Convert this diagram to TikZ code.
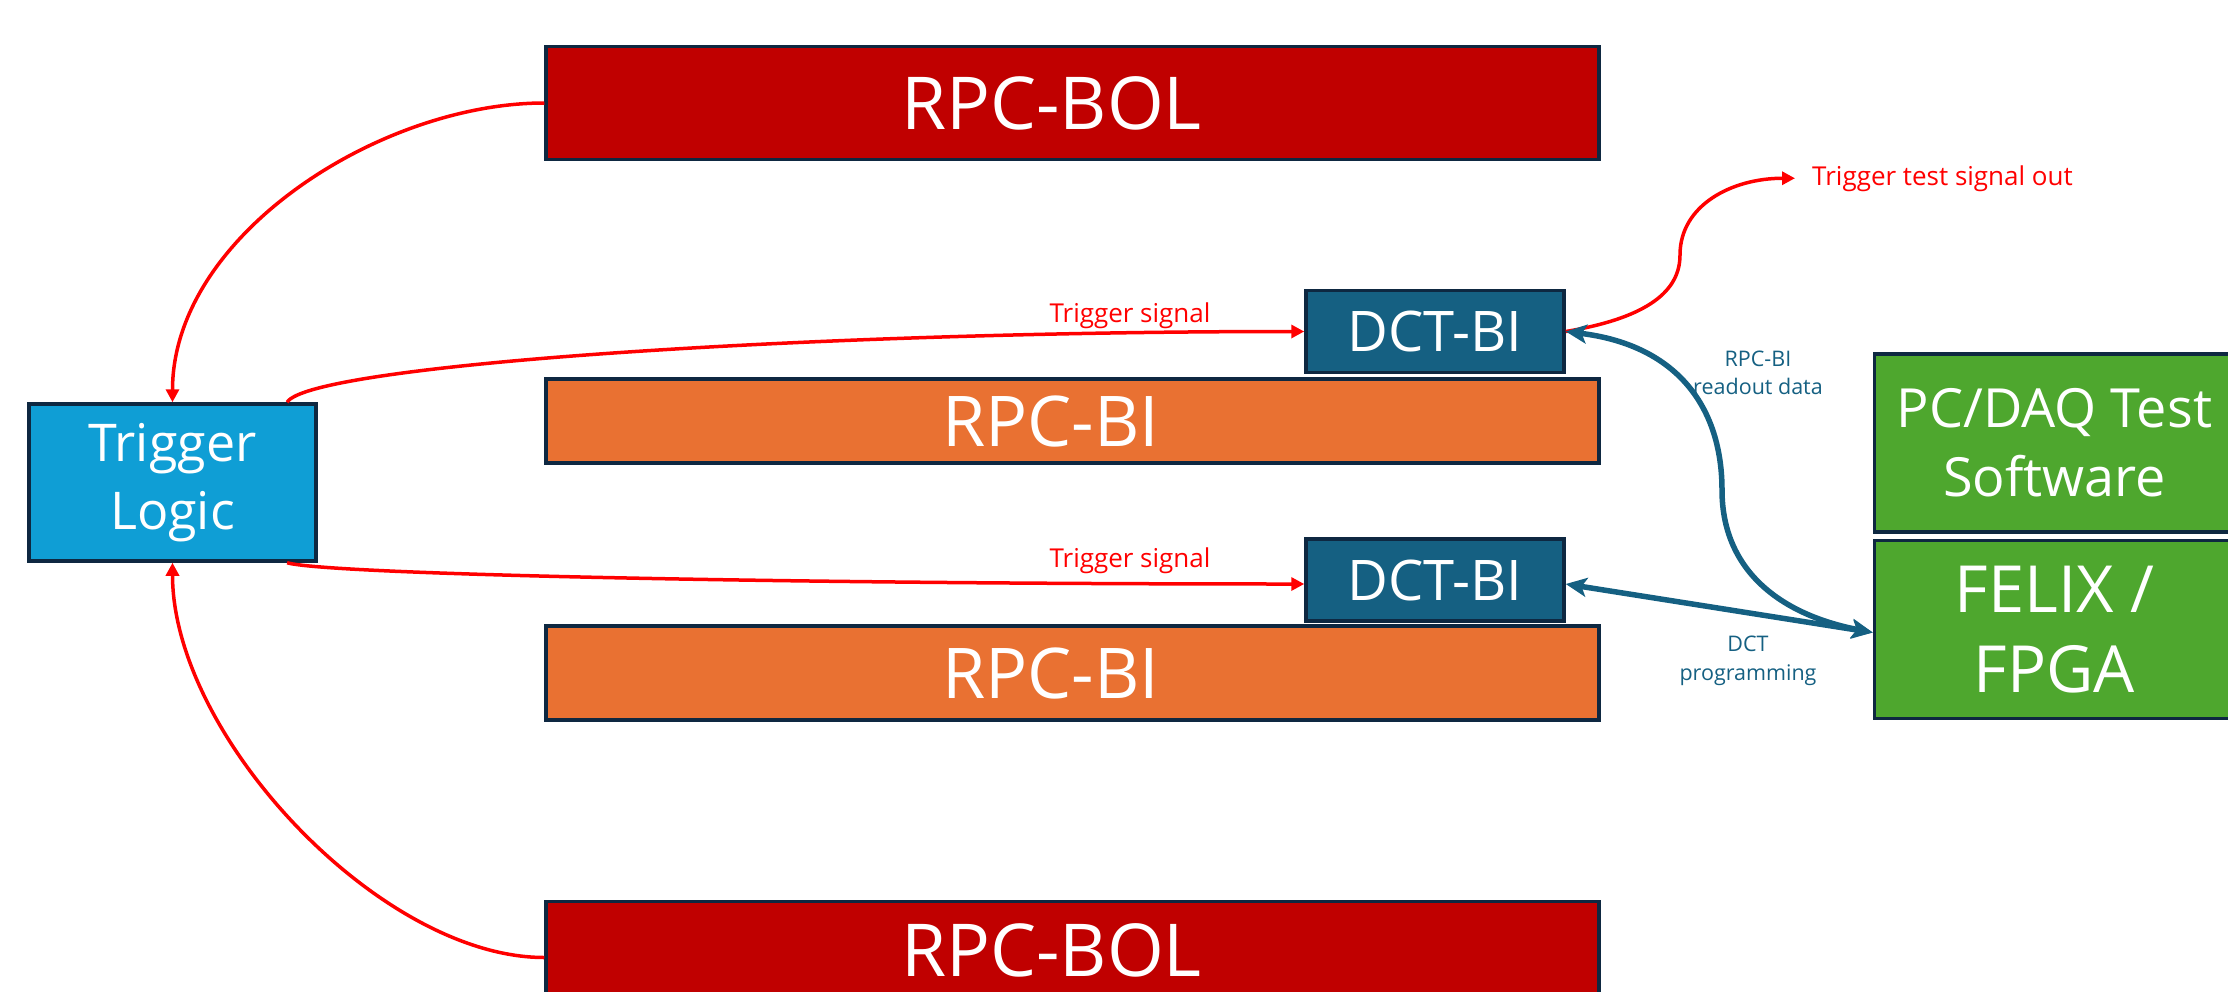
\documentclass[tikz,border=0pt]{standalone}
\usepackage{fontspec}
\setmainfont{Open Sans}
\usetikzlibrary{arrows.meta}
\definecolor{edgeblue}{HTML}{0E2841}
\definecolor{bolred}{HTML}{C00000}
\definecolor{biorange}{HTML}{E97132}
\definecolor{dctblue}{HTML}{156082}
\definecolor{logicblue}{HTML}{0F9ED5}
\definecolor{daqgreen}{HTML}{4EA72E}
\definecolor{sigred}{HTML}{FF0000}
\begin{document}
\begin{tikzpicture}[x=1pt,y=-1pt,
  block/.style={rectangle, draw=edgeblue, line width=3.5pt, inner sep=0pt,
    text=white, align=center},
  bolbox/.style={block, fill=bolred, minimum width=1053pt,
    font=\fontsize{73}{86}\selectfont},
  bibox/.style={block, fill=biorange, minimum width=1053pt,
    font=\fontsize{70}{82}\selectfont},
  dctbox/.style={block, fill=dctblue, minimum width=258pt, minimum height=82pt,
    font=\fontsize{56}{66}\selectfont},
  logicbox/.style={block, fill=logicblue, minimum width=287pt, minimum height=157pt,
    font=\fontsize{52}{68}\selectfont},
  daqbox/.style={block, fill=daqgreen, minimum width=360pt, minimum height=178pt},
  sigline/.style={draw=sigred, line width=3.5pt, -{Triangle[length=13pt,width=13pt]}},
  dataline/.style={draw=dctblue, line width=5.5pt,
    {Stealth[length=21pt,width=19pt,inset=5pt]}-{Stealth[length=21pt,width=19pt,inset=5pt]}},
  siglabel/.style={text=sigred, inner sep=0pt, font=\fontsize{26}{31}\selectfont},
  datalabel/.style={text=dctblue, inner sep=0pt, align=center,
    font=\fontsize{21.5}{28.5}\selectfont},
]
\useasboundingbox (0,0) rectangle (2228,991);
\clip (0,0) rectangle (2228,991);

% detector chambers
\node[bolbox, minimum height=113pt] (bolT) at (1072.5,103) {RPC-BOL\hspace*{42pt}};
\node[bibox, minimum height=84pt] (biA) at (1072.5,421) {RPC-BI\hspace*{44pt}};
\node[bibox, minimum height=94pt] (biB) at (1072.5,673) {RPC-BI\hspace*{44pt}};
\node[bolbox, minimum height=98pt] (bolB) at (1072.5,950.5) {RPC-BOL\hspace*{42pt}};

% front-end boards
\node[dctbox] (dctA) at (1435,331.5) {DCT-BI};
\node[dctbox] (dctB) at (1435,580) {DCT-BI};

% trigger logic
\node[logicbox] (tl) at (172.5,482.5) {Trigger\\Logic};

% readout chain
\node[daqbox, font=\fontsize{54}{69}\selectfont] (pc) at (2054.5,443) {PC/DAQ Test\\Software};
\node[daqbox, font=\fontsize{65}{80}\selectfont] (felix) at (2054.5,629.5) {FELIX /\\FPGA};

% labels
\node[siglabel, anchor=base west] (tso) at (1812,185) {Trigger test signal out};
\node[siglabel, anchor=base] (lsA) at (1130,322) {Trigger signal};
\node[siglabel, anchor=base] (lsB) at (1130,567) {Trigger signal};
\node[datalabel] (lro) at (1758,373) {RPC-BI\\readout data};
\node[datalabel] (lprog) at (1748,661) {DCT\\programming};

% trigger signals
\draw[sigline] (bolT.west) .. controls +(-164,0) and +(0,-167) .. (tl.north);
\draw[sigline] ([yshift=-7pt]bolB.west) .. controls +(-164,0) and +(0,173) .. (tl.south);
\draw[sigline] (tl.35) .. controls +(22,-37) and +(-504,0) .. (dctA.west);
\draw[sigline] (tl.-35) .. controls +(42,12) and +(-504,0) .. ([yshift=-4pt]dctB.west);
\draw[sigline] (dctA.east) .. controls +(84,-14) and +(0,35) .. (1680,255)
  .. controls +(0,-50) and +(-63,0) .. ([xshift=-17pt]tso.west);

% data and configuration links
\draw[dataline] (dctA.east) .. controls +(114,14) and +(0,-80) .. (1722,490)
  .. controls +(0,80) and +(-93,-18) .. ([yshift=-3pt]felix.west);
\draw[dataline] ([yshift=-4pt]dctB.east) -- ([yshift=-3pt]felix.west);
\end{tikzpicture}
\end{document}
